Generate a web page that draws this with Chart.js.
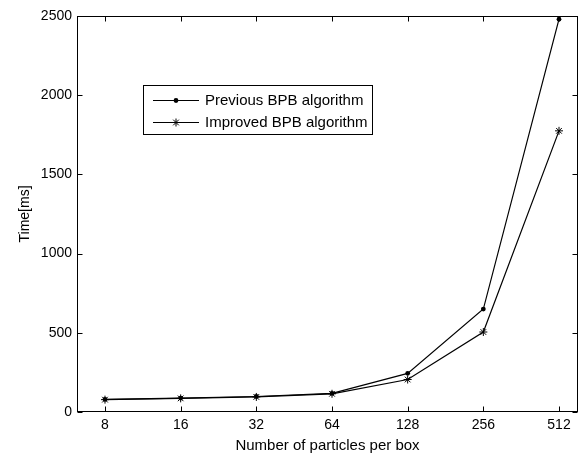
<!DOCTYPE html>
<html>
<head>
<meta charset="utf-8">
<script src="https://cdn.jsdelivr.net/npm/chart.js@4.4.0/dist/chart.umd.min.js"></script>
<style>
html,body{margin:0;padding:0;background:#fff;}
#wrap{width:587px;height:455px;position:relative;}
</style>
</head>
<body>
<div id="wrap"><canvas id="c" width="587" height="455"></canvas></div>
<script>
const categories = ['8', '16', '32', '64', '128', '256', '512'];
const previousBPB = [80, 88, 98, 118, 244, 650, 2480];
const improvedBPB = [78, 86, 95, 115, 205, 505, 1775];
const yTicks = [0, 500, 1000, 1500, 2000, 2500];
const seriesNames = ['Previous BPB algorithm', 'Improved BPB algorithm'];

const FONT = "'Liberation Sans', Arial, sans-serif";

function toPoints(arr) { return arr.map((v, i) => ({x: i + 1, y: v})); }

const boxPlugin = {
  id: 'matlabBox',
  afterDatasetsDraw(chart) {
    const {ctx, chartArea: a, scales} = chart;
    ctx.save();
    ctx.strokeStyle = '#000';
    ctx.lineWidth = 1;
    const L = Math.round(a.left) + 0.5, R = Math.round(a.right) - 0.5;
    const T = Math.round(a.top) + 0.5, B = Math.round(a.bottom) - 0.5;
    ctx.strokeRect(L, T, R - L, B - T);
    const len = 5;
    ctx.beginPath();
    categories.forEach((c, i) => {
      const x = Math.round(scales.x.getPixelForValue(i + 1)) + 0.5;
      ctx.moveTo(x, B); ctx.lineTo(x, B - len);
      ctx.moveTo(x, T); ctx.lineTo(x, T + len);
    });
    yTicks.forEach(v => {
      const y = Math.round(scales.y.getPixelForValue(v)) + 0.5;
      ctx.moveTo(L, y); ctx.lineTo(L + len, y);
      ctx.moveTo(R, y); ctx.lineTo(R - len, y);
    });
    ctx.stroke();

    // legend
    const lx = 143.5, ly = 85.5, lw = 229, lh = 49;
    ctx.fillStyle = '#fff';
    ctx.fillRect(lx, ly, lw, lh);
    ctx.strokeRect(lx, ly, lw, lh);
    const rows = [100, 121.5];
    ctx.font = '15px ' + FONT;
    ctx.textBaseline = 'middle';
    ctx.textAlign = 'left';
    rows.forEach((ry, k) => {
      const yy = Math.round(ry) + 0.5;
      ctx.beginPath();
      ctx.moveTo(153, yy); ctx.lineTo(199, yy);
      ctx.stroke();
      const mx = 176, my = yy;
      if (k === 0) {
        ctx.beginPath();
        ctx.arc(mx, my, 2.4, 0, Math.PI * 2);
        ctx.fillStyle = '#000';
        ctx.fill();
      } else {
        const r = 4;
        ctx.beginPath();
        ctx.moveTo(mx - r, my); ctx.lineTo(mx + r, my);
        ctx.moveTo(mx, my - r); ctx.lineTo(mx, my + r);
        const d = r * 0.7071;
        ctx.moveTo(mx - d, my - d); ctx.lineTo(mx + d, my + d);
        ctx.moveTo(mx - d, my + d); ctx.lineTo(mx + d, my - d);
        ctx.stroke();
      }
      ctx.fillStyle = '#000';
      ctx.fillText(chart.data.datasets[k].label, 205, ry + 1);
    });
    ctx.restore();
  }
};

new Chart(document.getElementById('c'), {
  type: 'line',
  data: {
    datasets: [
      {
        label: seriesNames[0],
        data: toPoints(previousBPB),
        borderColor: '#000',
        backgroundColor: '#000',
        borderWidth: 1.2,
        pointStyle: 'circle',
        pointRadius: 2.4,
        pointBorderWidth: 0,
        tension: 0,
        fill: false
      },
      {
        label: seriesNames[1],
        data: toPoints(improvedBPB),
        borderColor: '#000',
        backgroundColor: '#000',
        borderWidth: 1.2,
        pointStyle: 'star',
        pointRadius: 4,
        pointBorderWidth: 1,
        tension: 0,
        fill: false
      }
    ]
  },
  options: {
    responsive: false,
    animation: false,
    devicePixelRatio: 1,
    layout: {padding: {left: 0, right: 9, top: 16, bottom: 0}},
    plugins: {legend: {display: false}, tooltip: {enabled: false}},
    scales: {
      x: {
        type: 'linear',
        min: 0.63,
        max: 7.251,
        afterBuildTicks(s) { s.ticks = categories.map((c, i) => ({value: i + 1})); },
        afterFit(s) { s.height = 43; },
        grid: {display: false, drawTicks: false},
        border: {display: false},
        ticks: {
          color: '#000',
          font: {family: FONT, size: 14},
          padding: 5,
          maxRotation: 0,
          autoSkip: false,
          callback(v) { return categories[Math.round(v) - 1]; }
        },
        title: {
          display: true,
          text: 'Number of particles per box',
          color: '#000',
          font: {family: FONT, size: 15},
          padding: {top: 0, bottom: 0}
        }
      },
      y: {
        min: 0,
        max: 2500,
        afterBuildTicks(s) { s.ticks = yTicks.map(v => ({value: v})); },
        afterFit(s) { s.width = 77; },
        grid: {display: false, drawTicks: false},
        border: {display: false},
        ticks: {
          color: '#000',
          font: {family: FONT, size: 14},
          padding: 5,
          callback(v) { return String(v); }
        },
        title: {
          display: true,
          text: 'Time[ms]',
          color: '#000',
          font: {family: FONT, size: 14},
          padding: {top: 17, bottom: 0}
        }
      }
    }
  },
  plugins: [boxPlugin]
});
</script>
</body>
</html>
